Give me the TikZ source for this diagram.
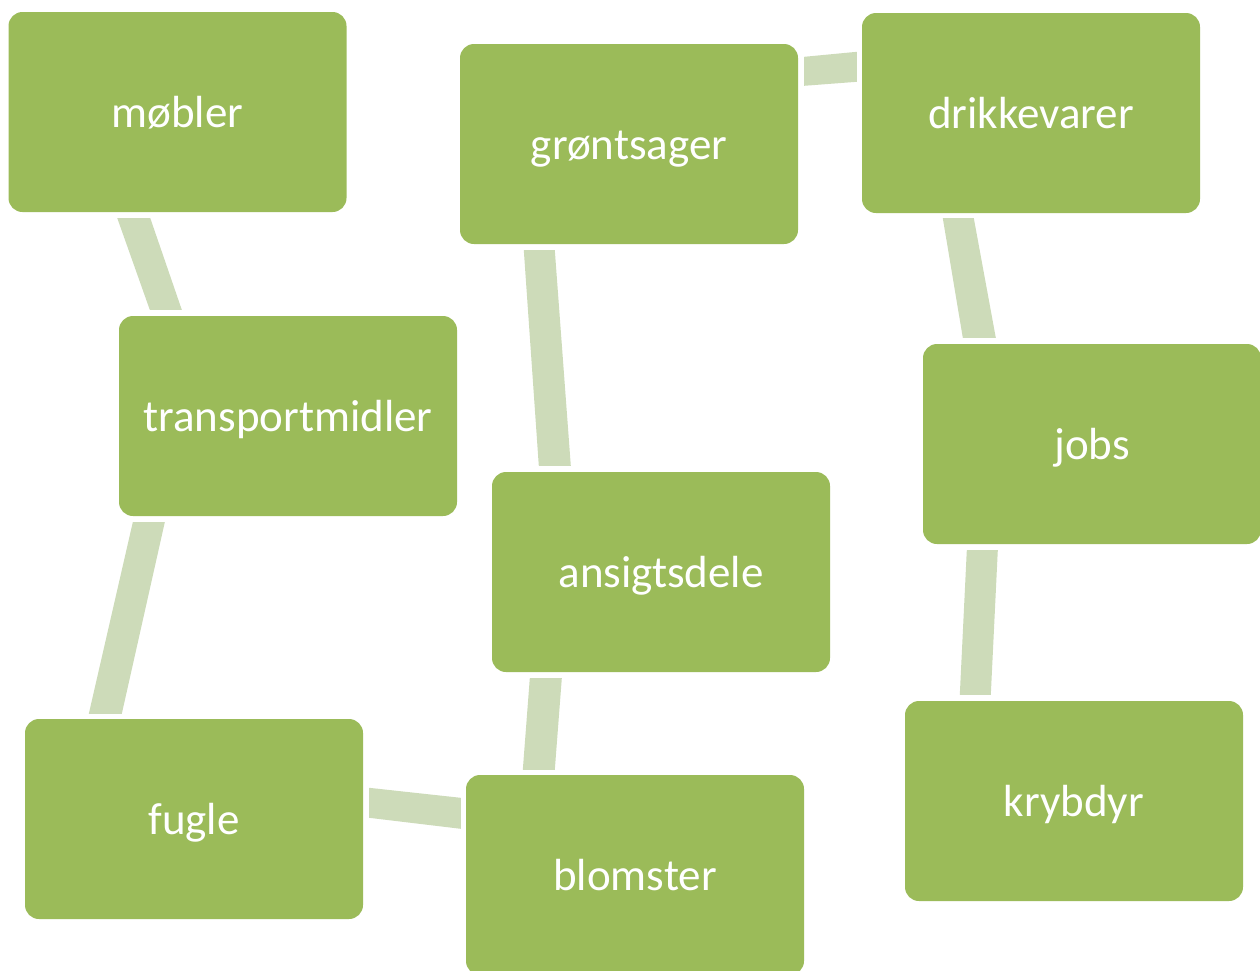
\documentclass[tikz,border=0pt]{standalone}
\usepackage{fontspec}
\setmainfont{Carlito}
\usetikzlibrary{calc}
\definecolor{boxgreen}{HTML}{9BBB59}
\definecolor{linkgreen}{HTML}{CDDBB9}
\tikzset{
  item/.style={fill=boxgreen, draw=none, rounded corners=14pt, minimum width=338pt, minimum height=200pt,
    inner sep=0pt, text height=40pt, text depth=10pt, text=white, font=\fontsize{45}{54}\selectfont},
  band/.style={fill=linkgreen, draw=none}
}
\begin{document}
\begin{tikzpicture}[x=1pt,y=-1pt]
\useasboundingbox (0,0) rectangle (1260,970);
\node[item] (mob) at (177.5,112) {møbler};
\node[item] (gron) at (629,144) {grøntsager};
\node[item] (drik) at (1031,113) {drikkevarer};
\node[item] (trans) at (288,416) {transportmidler};
\node[item] (jobs) at (1092,444) {jobs};
\node[item] (ans) at (661,572) {ansigtsdele};
\node[item] (kry) at (1074,801) {krybdyr};
\node[item] (fug) at (194,819) {fugle};
\node[item] (blom) at (635,875) {blomster};
% connectors
\fill[band] ($(mob.south west)+(109,6)$) -- ($(mob.south west)+(142,6)$) -- ($(trans.north west)+(63,-6)$) -- ($(trans.north west)+(31,-6)$) -- cycle;
\fill[band] ($(trans.south west)+(14,6)$) -- ($(trans.south west)+(46,6)$) -- ($(fug.north west)+(97,-5)$) -- ($(fug.north west)+(64,-5)$) -- cycle;
\fill[band] ($(gron.south west)+(64,6)$) -- ($(gron.south west)+(95,6)$) -- ($(ans.north west)+(79,-6)$) -- ($(ans.north west)+(47,-6)$) -- cycle;
\fill[band] ($(ans.south west)+(38,6)$) -- ($(ans.south west)+(70,6)$) -- ($(blom.north west)+(89,-5)$) -- ($(blom.north west)+(57,-5)$) -- cycle;
\fill[band] ($(fug.north east)+(6,69)$) -- ($(blom.north west)+(-5,23)$) -- ($(blom.north west)+(-5,54)$) -- ($(fug.north east)+(6,99)$) -- cycle;
\fill[band] ($(gron.north east)+(6,13)$) -- ($(drik.north west)+(-5,39)$) -- ($(drik.north west)+(-5,69)$) -- ($(gron.north east)+(6,42)$) -- cycle;
\fill[band] ($(drik.south west)+(81,5)$) -- ($(drik.south west)+(112,5)$) -- ($(jobs.north west)+(73,-6)$) -- ($(jobs.north west)+(40,-6)$) -- cycle;
\fill[band] ($(jobs.south west)+(44,6)$) -- ($(jobs.south west)+(75,6)$) -- ($(kry.north west)+(86,-6)$) -- ($(kry.north west)+(55,-6)$) -- cycle;
\end{tikzpicture}
\end{document}
